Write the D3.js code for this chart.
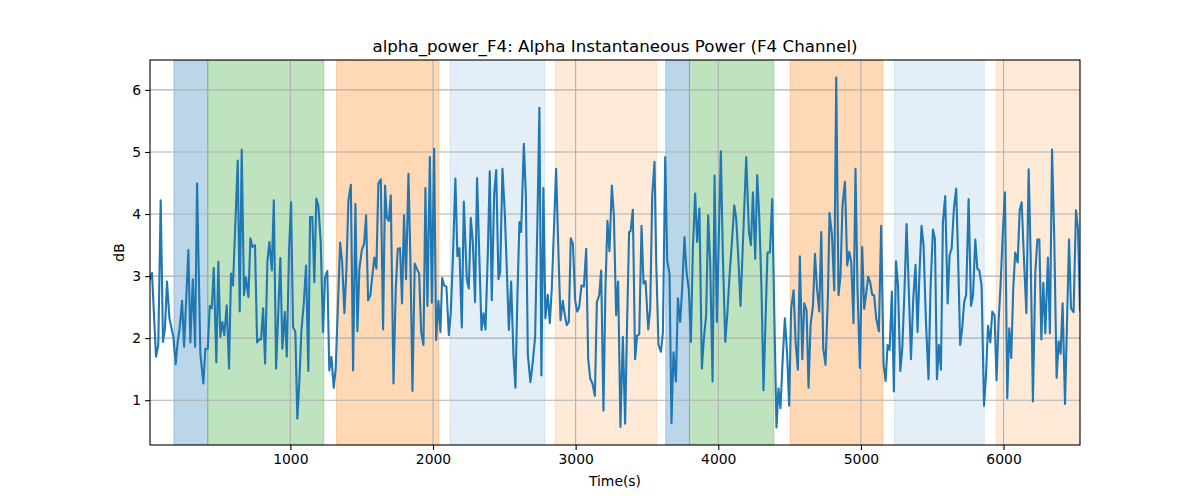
<!DOCTYPE html>
<html>
<head>
<meta charset="utf-8">
<script src="https://cdn.jsdelivr.net/npm/d3@7/dist/d3.min.js"></script>
<style>
  html, body { margin: 0; padding: 0; background: #fff; }
  svg { display: block; }
  text { font-family: "DejaVu Sans", sans-serif; fill: #000; }
</style>
</head>
<body>
<svg id="chart" width="1200" height="500"></svg>
<script>
// ---------- data ----------
const chartTitle = "alpha_power_F4: Alpha Instantaneous Power (F4 Channel)";
const xLabel = "Time(s)";
const yLabel = "dB";
const xTicks = [1000, 2000, 3000, 4000, 5000, 6000];
const yTicks = [1, 2, 3, 4, 5, 6];

const times = [
  16,30,58,74,91,107,121,135,152,180,196,210,224,241,255,285,299,316,332,346,369,390,404,421,435,449,463,481,495,509,523,537,554,570,584,598,631,645,659,675,689,706,720,734,752,767,781,795,809,823,839,853,
  870,884,900,930,944,961,975,991,1005,1019,1035,1049,1063,1077,1094,1110,1126,1138,1154,1168,1182,1196,1213,1229,1243,1259,1273,1288,1304,1318,1349,1363,1379,1393,1407,1424,1440,1456,1470,1484,1501,1517,1531,1545,1561,1575,1589,1603,1617,1634,1650,1664,
  1676,1690,1704,1723,1739,1753,1769,1783,1797,1811,1828,1842,1856,1872,1886,1903,1917,1933,1947,1961,1978,1992,2008,2022,2038,2052,2064,2078,2094,2111,2125,2141,2157,2171,2185,2202,2216,2237,2251,2265,2279,2295,2309,2326,2340,2354,2368,2384,2398,2412,2429,2443,2459,2471,2487,
  2504,2518,2532,2548,2564,2578,2592,2606,2618,2637,2651,2665,2683,2700,2716,2732,2746,2760,2774,2788,2805,2819,2833,2863,2880,2894,2910,2924,2938,2952,2966,2981,2997,3011,3025,3041,3058,3074,3088,3102,3118,3135,3149,3165,3179,3195,3209,3223,3237,3254,3268,3284,3298,3314,3331,3347,3361,3375,
  3385,3401,3417,3431,3446,3462,3476,3490,3509,3523,3537,3553,3565,3581,3598,3612,3628,3642,3658,3672,3686,3703,3717,3733,3747,3763,3777,3794,3808,3822,3838,3852,3868,3885,3899,3915,3929,3943,3960,3974,3990,4018,4032,4049,4063,4079,4096,4112,4126,4142,4156,4196,
  4215,4229,4243,4259,4273,4287,4303,4317,4331,4345,4362,4378,4394,4408,4422,4436,4453,4467,4483,4497,4511,4528,4542,4558,4572,4589,4603,4619,4633,4647,4664,4678,4692,4708,4722,4736,4752,4769,4780,4797,4813,4827,4843,4857,4871,4888,4904,4918,4932,4948,4962,4976,4993,5009,5023,5037,5051,
  5065,5079,5093,5107,5126,5142,5159,5173,5187,5201,5217,5231,5246,5260,5276,5290,5306,5320,5337,5351,5367,5383,5397,5411,5425,5439,5456,5474,5488,5505,5519,5533,5547,5561,5575,5591,5608,5622,5636,5652,5668,5682,5696,5710,5724,5738,5755,5772,5786,5802,5816,5830,5846,5863,5877,5891,
  5907,5921,5937,5951,5965,5979,5996,6010,6026,6040,6054,6068,6082,6099,6113,6127,6143,6160,6176,6190,6206,6223,6237,6251,6265,6279,6293,6311,6325,6340,6356,6372,6386,6400,6414,6431,6445,6459,6473,6491,6508,6522,6536
];
const power = [
  2.95,3.05,1.70,1.89,4.22,1.94,2.16,2.91,2.32,2.02,1.58,1.94,2.16,2.60,1.86,3.42,1.93,2.95,1.86,4.49,1.75,1.27,1.83,1.83,2.52,2.48,3.13,1.61,3.23,2.02,2.26,2.05,2.53,1.51,3.04,2.85,4.86,2.43,5.04,2.69,2.98,2.66,3.61,3.47,3.50,1.93,1.98,1.98,2.48,1.59,3.23,3.55,
  3.09,4.22,1.51,3.29,1.83,2.42,1.70,3.44,4.19,2.18,2.10,0.70,1.30,2.10,2.56,3.17,1.47,3.95,3.95,2.90,4.25,4.14,3.55,2.10,2.97,3.08,1.48,1.70,1.20,1.51,3.54,3.23,2.40,3.10,4.22,4.47,1.48,4.16,2.11,3.12,3.42,3.52,3.98,2.61,2.69,3.01,3.30,3.12,4.49,4.56,2.14,4.46,
  3.94,3.89,4.30,1.27,2.80,3.44,3.45,2.56,3.98,2.95,4.65,3.23,1.15,3.20,3.12,3.04,2.10,1.89,4.42,2.52,4.92,2.57,5.05,1.97,2.60,2.10,2.97,2.85,2.83,2.05,2.42,3.39,4.57,3.32,3.45,2.17,4.20,2.95,2.80,3.94,3.55,2.58,4.58,3.22,2.13,2.40,2.14,3.34,4.69,2.61,4.33,4.71,2.95,3.07,4.73,
  3.98,3.07,2.13,2.91,1.73,1.20,2.69,3.87,3.71,5.13,4.30,1.73,1.29,1.62,2.02,3.87,5.71,1.40,4.42,2.32,2.70,2.24,2.80,4.73,3.34,2.29,2.60,2.37,2.21,2.26,3.61,3.52,2.60,2.43,2.50,2.85,2.83,3.44,1.67,1.35,1.27,1.07,2.58,2.69,3.09,0.83,2.80,3.89,3.40,4.46,3.98,2.37,2.91,0.57,2.02,0.62,2.26,3.71,
  3.72,4.07,1.66,2.04,2.06,3.81,2.88,2.92,2.14,2.48,4.30,4.84,3.23,1.89,1.78,2.10,4.92,3.25,3.04,0.63,1.77,1.30,2.64,2.26,2.80,3.63,3.07,2.77,1.94,3.44,4.33,3.55,4.09,1.51,1.99,2.37,3.98,3.23,1.30,4.62,2.26,5.01,3.34,1.94,2.37,3.01,3.55,4.14,3.92,3.23,2.52,4.92,
  3.71,3.50,4.35,3.28,4.63,3.98,2.80,1.16,2.26,3.38,3.38,4.24,2.26,0.56,1.19,0.87,1.73,2.32,1.73,0.91,2.48,2.77,1.94,1.49,3.32,1.66,2.56,2.45,1.20,2.21,2.52,3.36,2.80,2.43,3.71,1.83,1.57,2.69,4.02,3.66,2.77,6.20,2.69,3.01,4.14,4.52,3.17,3.39,3.23,2.24,4.73,2.80,1.52,3.47,2.47,2.72,2.99,
  2.90,2.70,2.69,2.32,2.11,3.81,1.57,1.31,1.89,1.81,2.75,1.14,3.24,2.85,1.47,1.83,2.80,3.84,2.69,1.66,2.64,3.18,2.10,3.07,3.81,3.50,2.26,1.34,2.80,3.75,3.60,1.34,1.89,1.49,3.87,4.29,2.56,3.34,3.44,4.09,4.41,3.23,1.89,2.16,2.58,2.70,4.24,2.52,2.69,3.59,3.12,3.09,2.85,0.91,1.40,2.20,
  1.93,2.43,2.37,1.32,2.26,2.85,3.76,4.35,1.03,2.16,1.68,2.80,3.38,3.22,4.06,4.19,3.28,2.40,4.72,3.34,0.98,3.07,3.59,3.59,1.98,2.89,2.08,3.30,2.08,5.04,3.55,1.36,1.95,1.75,2.56,0.94,2.26,3.59,2.48,2.42,4.06,3.76,2.45
];

// shaded phases (start time, end time, phase kind)
const spanStart = [184, 421, 1323, 2120, 2856, 3632, 3798, 4504, 5233, 5949];
const spanEnd   = [421, 1234, 2041, 2784, 3567, 3798, 4390, 5154, 5865, 6536];
const spanKind  = ["A", "B", "C", "D", "E", "A", "B", "C", "D", "E"];

// ---------- styles ----------
const kindStyle = {
  A: { color: "#1f77b4", opacity: 0.3 },
  B: { color: "#2ca02c", opacity: 0.3 },
  C: { color: "#ff7f0e", opacity: 0.3 },
  D: { color: "#1f77b4", opacity: 0.12 },
  E: { color: "#ff7f0e", opacity: 0.16 }
};

const W = 1200, H = 500;
const margin = { left: 150, right: 120, top: 60, bottom: 55 };
const iw = W - margin.left - margin.right;
const ih = H - margin.top - margin.bottom;

const svg = d3.select("#chart");
const g = svg.append("g").attr("transform", `translate(${margin.left},${margin.top})`);

const x = d3.scaleLinear().domain(d3.extent(times)).range([0, iw]);
const [ymin, ymax] = d3.extent(power);
const pad = (ymax - ymin) * 0.05;
const y = d3.scaleLinear().domain([ymin - pad, ymax + pad]).range([ih, 0]);

// clip
svg.append("defs").append("clipPath").attr("id", "clip")
  .append("rect").attr("width", iw).attr("height", ih);

const plot = g.append("g").attr("clip-path", "url(#clip)");

// spans
const spans = spanStart.map((s, i) => ({ s, e: spanEnd[i], k: spanKind[i] }));
plot.selectAll("rect.span").data(spans).enter().append("rect")
  .attr("class", "span")
  .attr("x", d => x(d.s))
  .attr("y", 0)
  .attr("width", d => x(d.e) - x(d.s))
  .attr("height", ih)
  .attr("fill", d => kindStyle[d.k].color)
  .attr("fill-opacity", d => kindStyle[d.k].opacity)
  .attr("stroke", d => kindStyle[d.k].color)
  .attr("stroke-opacity", d => kindStyle[d.k].opacity)
  .attr("stroke-width", 1);

// grid
plot.selectAll("line.gx").data(xTicks).enter().append("line")
  .attr("x1", d => x(d)).attr("x2", d => x(d))
  .attr("y1", 0).attr("y2", ih)
  .attr("stroke", "#b0b0b0").attr("stroke-width", 1.1);
plot.selectAll("line.gy").data(yTicks).enter().append("line")
  .attr("y1", d => y(d)).attr("y2", d => y(d))
  .attr("x1", 0).attr("x2", iw)
  .attr("stroke", "#b0b0b0").attr("stroke-width", 1.1);

// line
const line = d3.line().x((d, i) => x(times[i])).y(d => y(d));
plot.append("path").datum(power)
  .attr("d", line)
  .attr("fill", "none")
  .attr("stroke", "#1f77b4")
  .attr("stroke-width", 2.1)
  .attr("stroke-linejoin", "round")
  .attr("stroke-linecap", "square");

// axes
const xAxis = d3.axisBottom(x).tickValues(xTicks).tickSize(4.9).tickPadding(4).tickFormat(d3.format("d"));
const yAxis = d3.axisLeft(y).tickValues(yTicks).tickSize(4.9).tickPadding(4).tickFormat(d3.format("d"));

const gx = g.append("g").attr("transform", `translate(0,${ih})`).call(xAxis);
const gy = g.append("g").call(yAxis);
[gx, gy].forEach(a => {
  a.select(".domain").remove();
  a.selectAll(".tick line").attr("stroke", "#000").attr("stroke-width", 1.1);
  a.selectAll(".tick text").attr("font-family", "DejaVu Sans").attr("font-size", "13.9px").attr("fill", "#000");
});

// frame
g.append("rect").attr("width", iw).attr("height", ih)
  .attr("fill", "none").attr("stroke", "#000").attr("stroke-width", 1.1);

// labels
svg.append("text").attr("x", margin.left + iw / 2).attr("y", 52)
  .attr("text-anchor", "middle").attr("font-size", "16.7px").text(chartTitle);
svg.append("text").attr("x", margin.left + iw / 2).attr("y", 486)
  .attr("text-anchor", "middle").attr("font-size", "13.9px").text(xLabel);
svg.append("text")
  .attr("transform", `translate(124,${margin.top + ih / 2}) rotate(-90)`)
  .attr("text-anchor", "middle").attr("font-size", "13.9px").text(yLabel);
</script>
</body>
</html>
